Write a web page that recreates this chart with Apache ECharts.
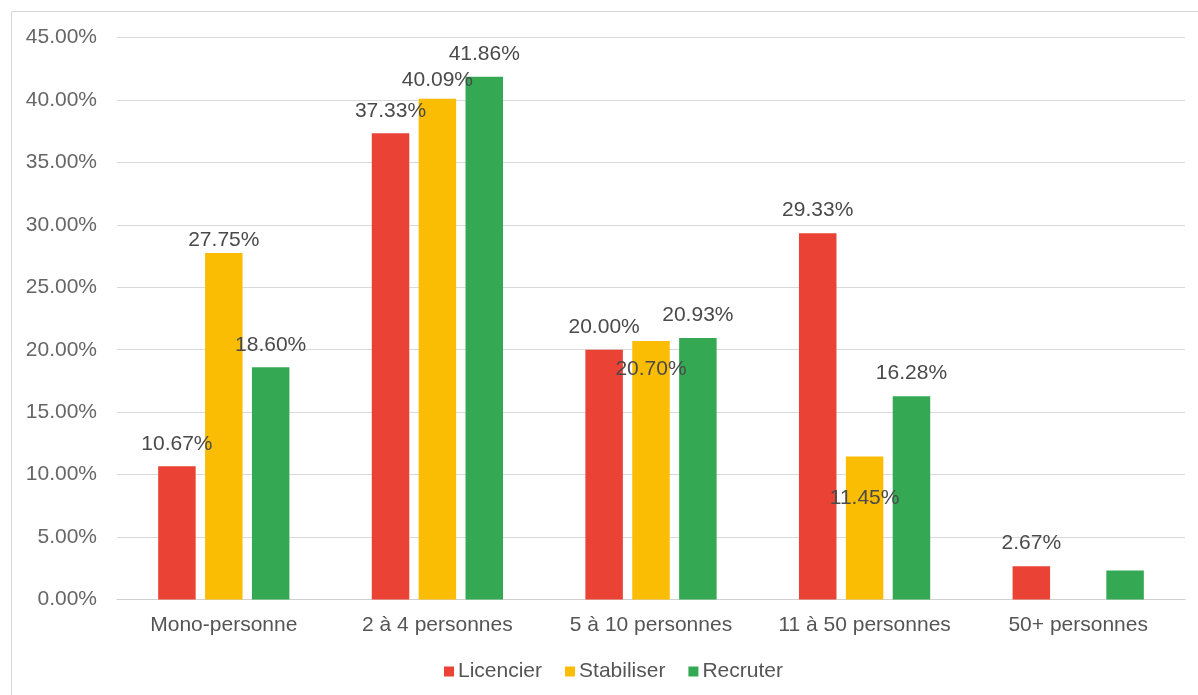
<!DOCTYPE html>
<html>
<head>
<meta charset="utf-8">
<title>Taille d'entreprise</title>
<script src="https://cdn.jsdelivr.net/npm/echarts@6/dist/echarts.min.js"></script>
<style>
  html, body { margin: 0; padding: 0; background: #fff; }
  #chart { width: 1198px; height: 695px; }
</style>
</head>
<body>
<div id="chart"></div>
<script>
// Catégories de taille d'entreprise
const categories = ['Mono-personne', '2 à 4 personnes', '5 à 10 personnes', '11 à 50 personnes', '50+ personnes'];

// Parts (%) par intention
const licencier  = [10.67, 37.33, 20.00, 29.33, 2.67];
const stabiliser = [27.75, 40.09, 20.70, 11.45, 0];
const recruter   = [18.60, 41.86, 20.93, 16.28, 2.33];

// Graduations de l'axe des valeurs
const yTicks = { min: 0, max: 45, step: 5 };

// Décalages verticaux des étiquettes qui se chevauchent (série -> index -> px)
const labelShift = {
  Stabiliser: { 0: 10, 1: 4, 2: 50.6, 3: 64.5 },
  Recruter: { 4: null }   // étiquette masquée
};

const FONT = '"Liberation Sans", Arial, Helvetica, sans-serif';
const FS = 21;
const colors = { Licencier: '#EA4335', Stabiliser: '#FBBC04', Recruter: '#34A853' };

function buildData(name, values) {
  const shifts = labelShift[name] || {};
  return values.map((v, i) => {
    const item = { value: v };
    if (v === 0 || shifts[i] === null) item.label = { show: false };
    return item;
  });
}

function makeSeries(name, values) {
  const shifts = labelShift[name] || {};
  return {
    name: name,
    type: 'bar',
    data: buildData(name, values),
    barWidth: 37.5,
    barGap: '25%',
    itemStyle: { color: colors[name] },
    label: {
      show: true,
      position: 'top',
      distance: 12,
      fontFamily: FONT,
      fontSize: FS,
      color: '#4a4a4a',
      formatter: p => p.value.toFixed(2) + '%'
    },
    labelLayout: p => {
      const s = shifts[p.dataIndex];
      return (typeof s === 'number') ? { dy: s, hideOverlap: false } : { hideOverlap: false };
    }
  };
}

const chart = echarts.init(document.getElementById('chart'), null, { renderer: 'canvas' });

chart.setOption({
  backgroundColor: '#fff',
  animation: false,
  textStyle: { fontFamily: FONT },
  graphic: [{
    type: 'rect',
    silent: true,
    z: -10,
    shape: { x: 11.5, y: 11.5, width: 1400, height: 900 },
    style: { fill: 'none', stroke: '#d6d6d6', lineWidth: 1 }
  }],
  grid: { left: 117, right: 13, top: 37.5, bottom: 95.5 },
  legend: {
    data: ['Licencier', 'Stabiliser', 'Recruter'],
    left: 439,
    top: 656,
    itemWidth: 10,
    itemHeight: 10,
    itemGap: 23,
    icon: 'rect',
    textStyle: { fontFamily: FONT, fontSize: FS, color: '#555', padding: [0, 0, 0, -1] }
  },
  xAxis: {
    type: 'category',
    data: categories,
    axisLine: { show: true, lineStyle: { color: '#d0d0d0', width: 1 } },
    axisTick: { show: false },
    axisLabel: { interval: 0, hideOverlap: false, fontFamily: FONT, fontSize: FS, color: '#555', margin: 15 }
  },
  yAxis: {
    type: 'value',
    min: yTicks.min,
    max: yTicks.max,
    interval: yTicks.step,
    axisLine: { show: false },
    axisTick: { show: false },
    splitLine: { lineStyle: { color: '#d9d9d9', width: 1 } },
    axisLabel: {
      fontFamily: FONT, fontSize: FS, color: '#666', margin: 20,
      formatter: v => v.toFixed(2) + '%'
    }
  },
  series: [
    makeSeries('Licencier', licencier),
    makeSeries('Stabiliser', stabiliser),
    makeSeries('Recruter', recruter)
  ]
});
</script>
</body>
</html>
